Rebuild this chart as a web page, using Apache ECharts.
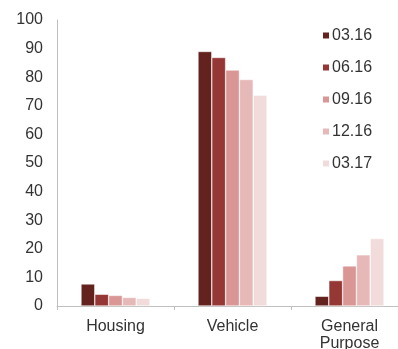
<!DOCTYPE html>
<html>
<head>
<meta charset="utf-8">
<script src="https://cdn.jsdelivr.net/npm/echarts@6/dist/echarts.min.js"></script>
<style>
  html, body { margin: 0; padding: 0; background: #fff; }
  #chart { width: 398px; height: 349px; }
</style>
</head>
<body>
<div id="chart"></div>
<script>
// Loan categories on the x axis
const categories = ['Housing', 'Vehicle', 'General\nPurpose'];

// Quarter-end snapshots (share, %)
const periods = ['03.16', '06.16', '09.16', '12.16', '03.17'];
const q0316 = [7.7, 89.0, 3.4];
const q0616 = [4.1, 86.9, 8.9];
const q0916 = [3.7, 82.5, 14.0];
const q1216 = [3.0, 79.2, 17.9];
const q0317 = [2.7, 73.7, 23.6];

const yTicks = [0, 10, 20, 30, 40, 50, 60, 70, 80, 90, 100];

const seriesValues = [q0316, q0616, q0916, q1216, q0317];
const palette = ['#64221f', '#953735', '#d99694', '#e6b9b8', '#f2dcdb'];

const fontFamily = 'Liberation Sans, Arial, sans-serif';
const textColor = '#333333';
const axisColor = '#bfbfbf';

const chart = echarts.init(document.getElementById('chart'), null, { renderer: 'canvas' });

chart.setOption({
  animation: false,
  color: palette,
  // plot area runs slightly past the right edge of the canvas; labels may overflow
  grid: { left: 57, top: 20, width: 351, bottom: 43, containLabel: false, outerBoundsMode: 'none' },
  legend: {
    data: periods,
    orient: 'vertical',
    left: 316,
    top: 22,
    itemWidth: 8,
    itemHeight: 8,
    itemGap: 15,
    icon: 'rect',
    textStyle: { fontFamily, fontSize: 16, color: textColor, lineHeight: 17, padding: [0, 0, 0, -3] }
  },
  xAxis: {
    type: 'category',
    data: categories,
    axisLine: { lineStyle: { color: axisColor, width: 1 } },
    axisTick: { show: true, length: 4, lineStyle: { color: axisColor } },
    axisLabel: { fontFamily, fontSize: 16, color: textColor, margin: 12, lineHeight: 17 }
  },
  yAxis: {
    type: 'value',
    min: yTicks[0],
    max: yTicks[yTicks.length - 1],
    interval: yTicks[1] - yTicks[0],
    axisLine: { show: true, lineStyle: { color: axisColor, width: 1 } },
    axisTick: { show: false },
    splitLine: { show: false },
    axisLabel: { fontFamily, fontSize: 16, color: textColor, margin: 14 }
  },
  series: seriesValues.map((vals, i) => ({
    name: periods[i],
    type: 'bar',
    data: vals,
    barGap: '0%',
    barCategoryGap: '41%',
    itemStyle: { color: palette[i], borderColor: '#ffffff', borderWidth: 0.5 }
  }))
});
</script>
</body>
</html>
